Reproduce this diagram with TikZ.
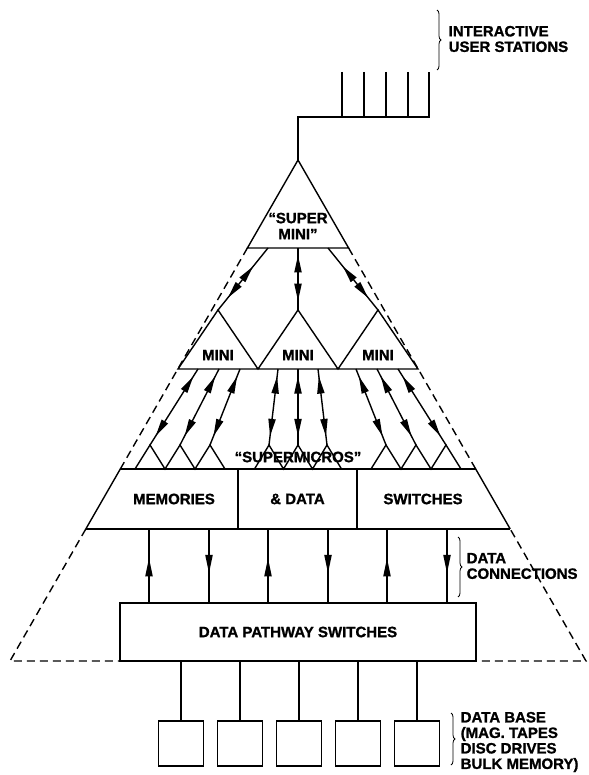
\documentclass[tikz,border=0pt]{standalone}
\usepackage{fontspec}
\setmainfont{Liberation Sans}[BoldFeatures={FakeBold=1.2}]
\usetikzlibrary{decorations.markings,decorations.pathreplacing}

\tikzset{
  lbl/.style={font=\bfseries\fontsize{15}{16}\selectfont,inner sep=0pt,align=center},
  side/.style={font=\bfseries\fontsize{15}{15.5}\selectfont,inner sep=0pt,align=left,anchor=west},
  box/.style={draw,rectangle,inner sep=0pt},
  bnd/.style={dash pattern=on 8pt off 5pt},
  brc/.style={decorate,decoration={brace,amplitude=4pt},line width=0.8pt},
  dbl/.style 2 args={postaction={decorate},decoration={markings,
      mark=at position #1 with {\fill (0pt,0pt) -- (17pt,3.8pt) -- (17pt,-3.8pt) -- cycle;},
      mark=at position #2 with {\fill (0pt,0pt) -- (-17pt,3.8pt) -- (-17pt,-3.8pt) -- cycle;}}},
  mid/.style={postaction={decorate},decoration={markings,
      mark=at position 0.6 with {\fill (0pt,0pt) -- (-18pt,3.8pt) -- (-18pt,-3.8pt) -- cycle;}}}
}

\begin{document}
\begin{tikzpicture}[x=1pt,y=-1pt,line width=1.4pt]
    \useasboundingbox (0,0) rectangle (588,775);

    % user stations
    \coordinate (top) at (298,160);
    \coordinate (bus) at (298,117);
    \path (342,72) coordinate (u1) (364,72) coordinate (u2) (386,72) coordinate (u3)
          (408,72) coordinate (u4) (429,72) coordinate (u5);
    \draw (top) -- (bus) -- (u5 |- bus) -- (u5);
    \draw (u1) -- (u1 |- bus);
    \draw (u2) -- (u2 |- bus);
    \draw (u3) -- (u3 |- bus);
    \draw (u4) -- (u4 |- bus);
    \draw[brc] (437,10) -- (437,70);
    \path (448,39) node[side] (ius) {INTERACTIVE\\USER STATIONS};

    % super mini and outline
    \draw (top) -- (348.6,248) -- (247.4,248) -- cycle;
    \path (298,226) node[lbl] (smini) {“SUPER\\MINI”};
    \draw[bnd] (247.4,248) -- (120.3,469);
    \draw (120.3,469) -- (85.8,529);
    \draw[bnd] (85.8,529) -- (10,661) -- (586,661) -- (510.2,529);
    \draw (510.2,529) -- (475.7,469);
    \draw[bnd] (475.7,469) -- (348.6,248);

    % minis
    \draw (178,369) -- (218,310) coordinate (m1) -- (258,369) -- (298,310) coordinate (m2)
          -- (338,369) -- (378,310) coordinate (m3) -- (418,369) -- cycle;
    \path (218,355) node[lbl] (mini1) {MINI};
    \path (298,355) node[lbl] (mini2) {MINI};
    \path (378,355) node[lbl] (mini3) {MINI};
    \path (268,248) coordinate (s1) (298,248) coordinate (s2) (328,248) coordinate (s3);
    \draw[dbl={0.3}{0.8}] (s1) -- (m1);
    \draw[dbl={0.12}{0.85}] (s2) -- (m2);
    \draw[dbl={0.3}{0.8}] (s3) -- (m3);

    % supermicros
    \draw (135,469) -- (150,445) coordinate (p1) -- (165,469) -- (180,445) coordinate (p2)
          -- (195,469) -- (210,445) coordinate (p3) -- (225,469);
    \draw (254.5,469) -- (269,445) coordinate (p4) -- (283.5,469) -- (298,445) coordinate (p5)
          -- (312.5,469) -- (327,445) coordinate (p6) -- (341.5,469);
    \draw (371,469) -- (386,445) coordinate (p7) -- (401,469) -- (416,445) coordinate (p8)
          -- (431,469) -- (446,445) coordinate (p9) -- (461,469);
    \path (298,457) node[lbl] (smic) {“SUPERMICROS”};
    \path (198,369) coordinate (q1) (219,369) coordinate (q2) (240,369) coordinate (q3)
          (278,369) coordinate (q4) (298,369) coordinate (q5) (318,369) coordinate (q6)
          (356,369) coordinate (q7) (377,369) coordinate (q8) (398,369) coordinate (q9);
    \draw[dbl={0.1}{0.88}] (q1) -- (p1);
    \draw[dbl={0.1}{0.88}] (q2) -- (p2);
    \draw[dbl={0.1}{0.88}] (q3) -- (p3);
    \draw[dbl={0.1}{0.88}] (q4) -- (p4);
    \draw[dbl={0.1}{0.88}] (q5) -- (p5);
    \draw[dbl={0.1}{0.88}] (q6) -- (p6);
    \draw[dbl={0.1}{0.88}] (q7) -- (p7);
    \draw[dbl={0.1}{0.88}] (q8) -- (p8);
    \draw[dbl={0.1}{0.88}] (q9) -- (p9);

    % memories & data switches
    \draw (120.3,469) -- (475.7,469);
    \draw (85.8,529) -- (510.2,529);
    \path (297.5,499) node[box,lbl,minimum width=119pt,minimum height=60pt] (dat) {\& DATA};
    \path (174,499) node[lbl] (mem) {MEMORIES};
    \path (423,499) node[lbl] (swi) {SWITCHES};

    % data connections
    \path (298,632) node[box,lbl,minimum width=356pt,minimum height=58pt] (dps) {DATA PATHWAY SWITCHES};
    \path (149,529) coordinate (c1) (209,529) coordinate (c2) (268,529) coordinate (c3)
          (328,529) coordinate (c4) (387,529) coordinate (c5) (447,529) coordinate (c6);
    \draw[mid] (c1 |- dps.north) -- (c1);
    \draw[mid] (c2) -- (c2 |- dps.north);
    \draw[mid] (c3 |- dps.north) -- (c3);
    \draw[mid] (c4) -- (c4 |- dps.north);
    \draw[mid] (c5 |- dps.north) -- (c5);
    \draw[mid] (c6) -- (c6 |- dps.north);
    \draw[brc] (458,537) -- (458,597);
    \path (466,566) node[side] (dcn) {DATA\\CONNECTIONS};

    % data base
    \path (181,743.5) node[box,minimum size=45pt] (db1) {};
    \path (240,743.5) node[box,minimum size=45pt] (db2) {};
    \path (299,743.5) node[box,minimum size=45pt] (db3) {};
    \path (358,743.5) node[box,minimum size=45pt] (db4) {};
    \path (417,743.5) node[box,minimum size=45pt] (db5) {};
    \draw (db1) -- (db1 |- dps.south);
    \draw (db2) -- (db2 |- dps.south);
    \draw (db3) -- (db3 |- dps.south);
    \draw (db4) -- (db4 |- dps.south);
    \draw (db5) -- (db5 |- dps.south);
    \draw[brc] (451,713) -- (451,765);
    \path (460,742) node[side] (dbs) {DATA BASE\\(MAG. TAPES\\DISC DRIVES\\BULK MEMORY)};
\end{tikzpicture}
\end{document}
